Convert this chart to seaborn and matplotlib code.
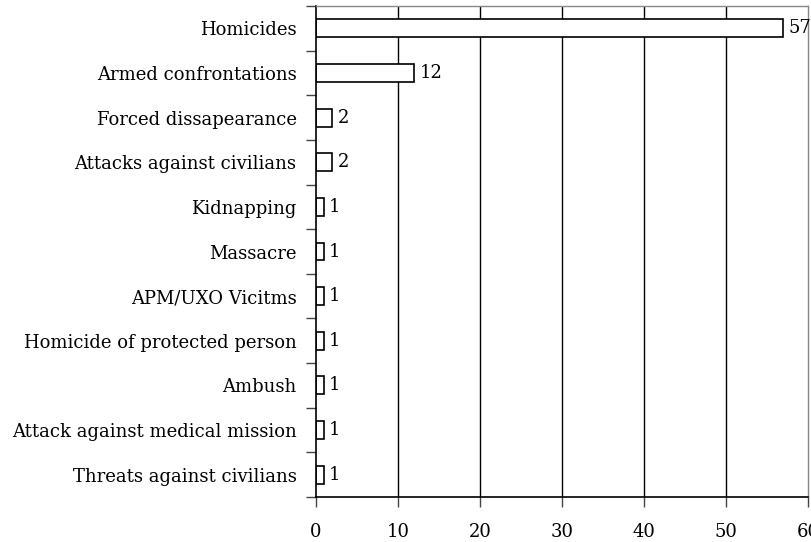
import matplotlib
matplotlib.use("Agg")
import matplotlib.pyplot as plt
import seaborn as sns
import pandas as pd
import numpy as np

categories = ["Homicides", "Armed confrontations", "Forced dissapearance",
              "Attacks against civilians", "Kidnapping", "Massacre",
              "APM/UXO Vicitms", "Homicide of protected person", "Ambush",
              "Attack against medical mission", "Threats against civilians"]
values = [57, 12, 2, 2, 1, 1, 1, 1, 1, 1, 1]
xticks = [0, 10, 20, 30, 40, 50, 60]

sns.set_style("white")
plt.rcParams['font.family'] = ['DejaVu Serif']
plt.rcParams['text.color'] = 'black'
plt.rcParams['xtick.color'] = 'black'
plt.rcParams['ytick.color'] = 'black'

df = pd.DataFrame({"cat": categories, "val": values})
fig = plt.figure(figsize=(8.12, 5.42), dpi=100)
ax = fig.add_axes([316/812, 1-497/542, (808-316)/812, (497-6)/542])
sns.barplot(data=df, y="cat", x="val", orient="h", color="white",
            edgecolor="black", linewidth=1.2, width=0.4, ax=ax)
ax.set_xlim(0, 60)
ax.set_ylim(len(categories)-0.5, -0.5)
ax.set_xticks(xticks)
ax.set_xlabel("")
ax.set_ylabel("")
for x in xticks[1:-1]:
    ax.axvline(x, color="black", lw=1.0, zorder=0)
ax.set_yticks(np.arange(-0.5, len(categories)), minor=True)
ax.tick_params(axis="y", which="major", left=False, length=0, pad=14, labelsize=13,
               labelcolor="black")
ax.tick_params(axis="y", which="minor", left=True, length=7, width=1, color="#444444",
               direction="out")
ax.tick_params(axis="x", which="major", bottom=True, length=7, width=1, color="#444444",
               direction="out", labelsize=13, pad=12, labelcolor="black")
for s in ["left", "bottom"]:
    ax.spines[s].set_color("black")
    ax.spines[s].set_linewidth(1.2)
for s in ["top", "right"]:
    ax.spines[s].set_color("#888888")
    ax.spines[s].set_linewidth(1.0)
    ax.spines[s].set_visible(True)
for i, v in enumerate(values):
    ax.text(v + 0.6, i, str(v), va="center", ha="left", fontsize=13, color="black",
            clip_on=False)
fig.savefig("out.png", dpi=100)
